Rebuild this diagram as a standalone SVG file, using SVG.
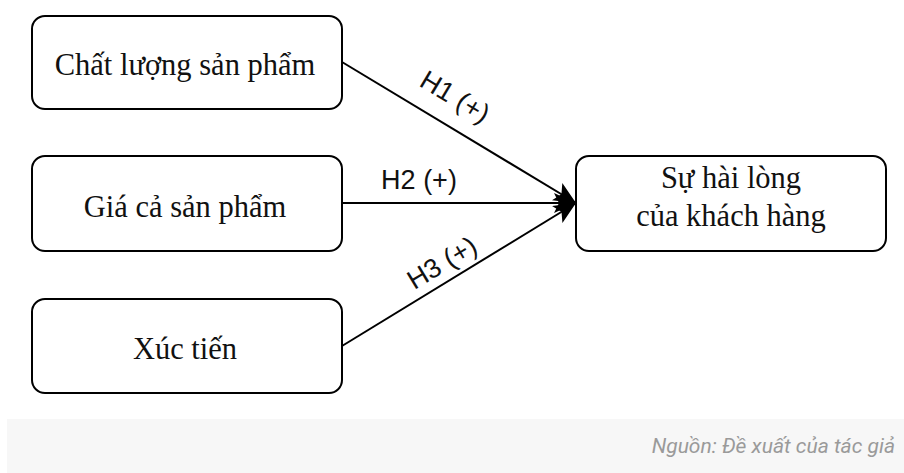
<svg xmlns="http://www.w3.org/2000/svg" width="904" height="473" viewBox="0 0 904 473">
<style>
.box{fill:#fff;stroke:#000;stroke-width:2}
.t{font-family:"Liberation Serif","Times New Roman",serif;font-size:30.5px;fill:#111;text-anchor:middle}
.lbl{font-family:"Liberation Sans",Arial,sans-serif;font-size:27px;fill:#111;text-anchor:middle}
.edge{stroke:#000;stroke-width:2;fill:none}
.cap{font-family:Roboto,"Liberation Sans",sans-serif;font-style:italic;font-size:21px;fill:#9a9a9a;text-anchor:end}
</style>
<defs>
<marker id="ah" viewBox="0 0 22 20" refX="22" refY="10" markerWidth="22" markerHeight="20" markerUnits="userSpaceOnUse" orient="auto">
<path d="M0,0 L22,10 L0,20 L5,10 Z" fill="#000"/>
</marker>
</defs>
<rect x="7" y="419" width="897" height="54" fill="#f7f7f7"/>
<text class="cap" x="895" y="453">Nguồn: Đề xuất của tác giả</text>
<g id="connectors">
<line class="edge" x1="342" y1="62" x2="576" y2="203" marker-end="url(#ah)"/>
<line class="edge" x1="342" y1="203" x2="576" y2="203" marker-end="url(#ah)"/>
<line class="edge" x1="342" y1="346" x2="576" y2="203" marker-end="url(#ah)"/>
<text class="lbl" transform="translate(455,97) rotate(31)" y="9">H1 (+)</text>
<text class="lbl" x="419" y="189">H2 (+)</text>
<text class="lbl" transform="translate(442,263) rotate(-31)" y="9">H3 (+)</text>
</g>
<g id="n1"><rect class="box" x="32" y="16" width="310" height="93" rx="13"/><text class="t" x="185" y="75">Chất lượng sản phẩm</text></g>
<g id="n2"><rect class="box" x="32" y="156" width="310" height="95" rx="13"/><text class="t" x="185" y="217">Giá cả sản phẩm</text></g>
<g id="n3"><rect class="box" x="32" y="299" width="310" height="94" rx="13"/><text class="t" x="185" y="359">Xúc tiến</text></g>
<g id="n4"><rect class="box" x="576" y="156" width="310" height="95" rx="13"/><text class="t" x="731" y="188">Sự hài lòng</text><text class="t" x="731" y="226">của khách hàng</text></g>
</svg>
